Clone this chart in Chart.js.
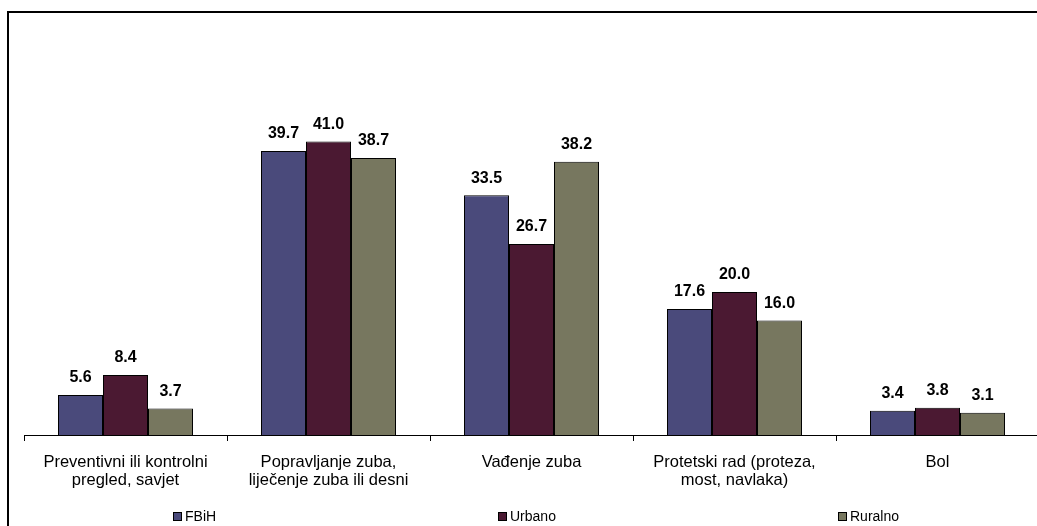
<!DOCTYPE html>
<html>
<head>
<meta charset="utf-8">
<script src="https://cdn.jsdelivr.net/npm/chart.js@4/dist/chart.umd.min.js"></script>
<style>
  html, body { margin: 0; padding: 0; background: #fff; overflow: hidden; }
  #wrap { position: relative; width: 1050px; height: 526px; }
</style>
</head>
<body>
<div id="wrap"><canvas id="chart" width="1050" height="526"></canvas></div>
<script>
// chart data
const categories = [
  ['Preventivni ili kontrolni', 'pregled, savjet'],
  ['Popravljanje zuba,', 'liječenje zuba ili desni'],
  'Vađenje zuba',
  ['Protetski rad (proteza,', 'most, navlaka)'],
  'Bol'
];
const seriesNames = ['FBiH', 'Urbano', 'Ruralno'];
const fbihValues = [5.6, 39.7, 33.5, 17.6, 3.4];
const urbanoValues = [8.4, 41.0, 26.7, 20.0, 3.8];
const ruralnoValues = [3.7, 38.7, 38.2, 16.0, 3.1];

const colors = ['#4a4a7b', '#4b1932', '#77775f'];
const legendX = [173, 498, 838];

// outer frame
const framePlugin = {
  id: 'frame',
  beforeDraw(chart) {
    const ctx = chart.ctx;
    ctx.save();
    ctx.fillStyle = '#fff';
    ctx.fillRect(0, 0, chart.width, chart.height);
    ctx.strokeStyle = '#000';
    ctx.lineWidth = 2;
    ctx.strokeRect(8, 12, 1100, 600);
    ctx.restore();
  }
};

// value labels above bars
const valueLabels = {
  id: 'valueLabels',
  afterDatasetsDraw(chart) {
    const ctx = chart.ctx;
    ctx.save();
    ctx.font = 'bold 16px "Liberation Sans", Arial, sans-serif';
    ctx.fillStyle = '#000';
    ctx.textAlign = 'center';
    ctx.textBaseline = 'middle';
    chart.data.datasets.forEach((ds, i) => {
      chart.getDatasetMeta(i).data.forEach((bar, j) => {
        ctx.fillText(ds.data[j].toFixed(1), bar.x, bar.y - 17);
      });
    });
    ctx.restore();
  }
};

// spread-out legend along the bottom
const bottomLegend = {
  id: 'bottomLegend',
  afterDraw(chart) {
    const ctx = chart.ctx;
    ctx.save();
    ctx.font = '14px "Liberation Sans", Arial, sans-serif';
    ctx.textBaseline = 'middle';
    ctx.textAlign = 'left';
    chart.data.datasets.forEach((ds, i) => {
      const x = legendX[i];
      ctx.fillStyle = ds.backgroundColor;
      ctx.fillRect(x, 512, 9, 9);
      ctx.strokeStyle = '#000';
      ctx.lineWidth = 1;
      ctx.strokeRect(x + 0.5, 512.5, 8, 8);
      ctx.fillStyle = '#000';
      ctx.fillText(ds.label, x + 12, 517);
    });
    ctx.restore();
  }
};

const valueSets = [fbihValues, urbanoValues, ruralnoValues];

new Chart(document.getElementById('chart'), {
  type: 'bar',
  data: {
    labels: categories,
    datasets: seriesNames.map((name, i) => ({
      label: name,
      data: valueSets[i],
      backgroundColor: colors[i],
      borderColor: '#000',
      borderWidth: 1,
      categoryPercentage: 0.665,
      barPercentage: 1.0
    }))
  },
  options: {
    responsive: false,
    animation: false,
    layout: { padding: { left: 24, right: 11, top: 113, bottom: 0 } },
    plugins: {
      legend: { display: false },
      tooltip: { enabled: false }
    },
    scales: {
      x: {
        offset: true,
        grid: {
          display: true,
          offset: true,
          drawOnChartArea: false,
          drawTicks: true,
          tickLength: 6,
          color: '#000'
        },
        border: { display: true, color: '#000', width: 1 },
        ticks: {
          color: '#000',
          padding: 12,
          maxRotation: 0,
          autoSkip: false,
          font: { family: '"Liberation Sans", Arial, sans-serif', size: 16.5, lineHeight: 1.1 }
        },
        afterFit(scale) { scale.height = 91; }
      },
      y: {
        display: false,
        min: 0,
        max: 45
      }
    }
  },
  plugins: [framePlugin, valueLabels, bottomLegend]
});
</script>
</body>
</html>
